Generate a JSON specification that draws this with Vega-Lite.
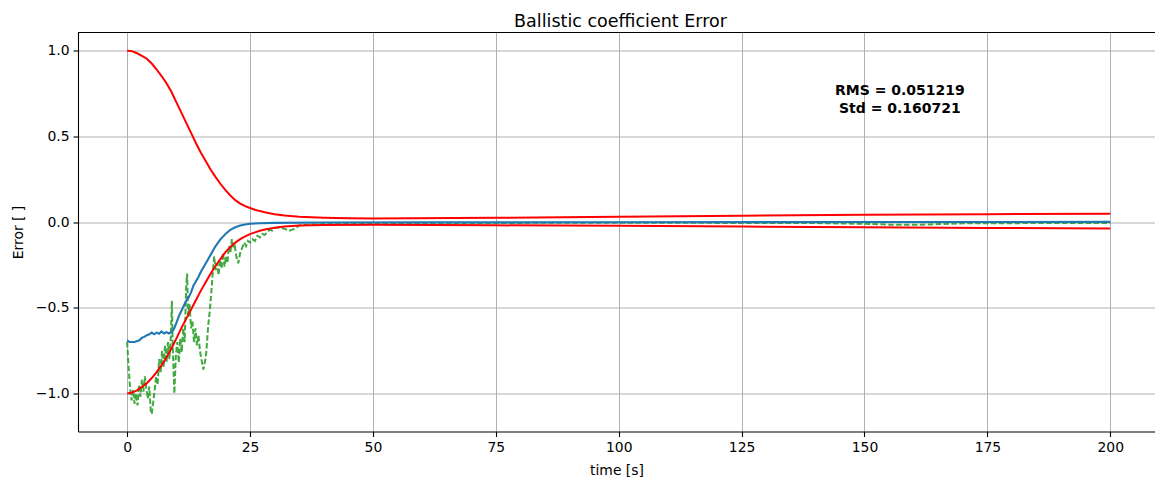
{
  "$schema": "https://vega.github.io/schema/vega-lite/v6.json",
  "width": 1077,
  "height": 399,
  "autosize": {"type": "none"},
  "padding": {"left": 78, "top": 32.5, "right": 0, "bottom": 50.5},
  "title": {"text": "Ballistic coefficient Error", "fontSize": 17.5, "fontWeight": "normal", "anchor": "middle", "frame": "group", "offset": -12.5, "baseline": "alphabetic", "color": "#000", "font": "DejaVu Sans", "dx": 4},
  "config": {
    "font": "DejaVu Sans",
    "view": {"stroke": null},
    "axis": {
      "grid": true, "gridColor": "#b0b0b0", "gridWidth": 1,
      "domainColor": "#000", "domainWidth": 1.1,
      "tickColor": "#000", "tickSize": 5, "tickWidth": 1.1,
      "labelPadding": 4, "labelFontSize": 13.9, "labelColor": "#000", "labelFont": "DejaVu Sans",
      "labelFlush": false, "labelOverlap": false,
      "titleFontSize": 13.9, "titleFontWeight": "normal", "titleColor": "#000", "titleFont": "DejaVu Sans"
    }
  },
  "datasets": {
    "upper": [
      {"t":0,"v":1.0},{"t":1,"v":0.997},{"t":2,"v":0.985},{"t":3,"v":0.97},{"t":4,"v":0.953},{"t":5,"v":0.925},{"t":6,"v":0.89},{"t":7,"v":0.852},{"t":8,"v":0.81},{"t":9,"v":0.76},{"t":10,"v":0.7},{"t":11,"v":0.64},{"t":12,"v":0.58},{"t":13,"v":0.52},{"t":14,"v":0.46},{"t":15,"v":0.405},{"t":16,"v":0.355},{"t":17,"v":0.305},{"t":18,"v":0.262},{"t":19,"v":0.222},{"t":20,"v":0.186},{"t":21,"v":0.155},{"t":22,"v":0.128},{"t":23,"v":0.108},{"t":24,"v":0.093},{"t":25,"v":0.082},{"t":26,"v":0.072},{"t":27,"v":0.064},{"t":28,"v":0.057},{"t":30,"v":0.046},{"t":32,"v":0.038},{"t":35,"v":0.031},{"t":40,"v":0.025},{"t":45,"v":0.022},{"t":50,"v":0.021},{"t":75,"v":0.025},{"t":100,"v":0.031},{"t":125,"v":0.037},{"t":150,"v":0.042},{"t":175,"v":0.046},{"t":200,"v":0.049}
    ],
    "lower": [
      {"t":0,"v":-1.0},{"t":1,"v":-0.995},{"t":2,"v":-0.982},{"t":3,"v":-0.962},{"t":4,"v":-0.94},{"t":5,"v":-0.91},{"t":6,"v":-0.875},{"t":7,"v":-0.835},{"t":8,"v":-0.79},{"t":9,"v":-0.738},{"t":10,"v":-0.68},{"t":11,"v":-0.62},{"t":12,"v":-0.565},{"t":13,"v":-0.51},{"t":14,"v":-0.455},{"t":15,"v":-0.4},{"t":16,"v":-0.35},{"t":17,"v":-0.3},{"t":18,"v":-0.255},{"t":19,"v":-0.215},{"t":20,"v":-0.175},{"t":21,"v":-0.145},{"t":22,"v":-0.12},{"t":23,"v":-0.1},{"t":24,"v":-0.083},{"t":25,"v":-0.07},{"t":26,"v":-0.06},{"t":27,"v":-0.051},{"t":28,"v":-0.044},{"t":30,"v":-0.033},{"t":32,"v":-0.026},{"t":35,"v":-0.02},{"t":40,"v":-0.017},{"t":50,"v":-0.016},{"t":75,"v":-0.019},{"t":100,"v":-0.022},{"t":125,"v":-0.026},{"t":150,"v":-0.03},{"t":175,"v":-0.034},{"t":200,"v":-0.037}
    ],
    "estimate": [
      {"t":0,"v":-0.69},{"t":0.5,"v":-0.7},{"t":1.5,"v":-0.7},{"t":2.5,"v":-0.69},{"t":3.0,"v":-0.675},{"t":3.5,"v":-0.67},{"t":4.0,"v":-0.66},{"t":4.5,"v":-0.655},{"t":5.0,"v":-0.645},{"t":5.5,"v":-0.655},{"t":6.0,"v":-0.645},{"t":6.5,"v":-0.652},{"t":7.0,"v":-0.638},{"t":7.5,"v":-0.65},{"t":8.0,"v":-0.642},{"t":8.5,"v":-0.65},{"t":9.0,"v":-0.643},{"t":9.5,"v":-0.625},{"t":10.0,"v":-0.59},{"t":10.5,"v":-0.55},{"t":11.0,"v":-0.52},{"t":11.5,"v":-0.49},{"t":12.0,"v":-0.46},{"t":12.5,"v":-0.44},{"t":13.0,"v":-0.41},{"t":13.5,"v":-0.37},{"t":14.0,"v":-0.345},{"t":14.5,"v":-0.32},{"t":15.0,"v":-0.29},{"t":15.5,"v":-0.265},{"t":16.0,"v":-0.24},{"t":16.5,"v":-0.215},{"t":17.0,"v":-0.19},{"t":17.5,"v":-0.165},{"t":18.0,"v":-0.14},{"t":18.5,"v":-0.12},{"t":19.0,"v":-0.1},{"t":19.5,"v":-0.085},{"t":20.0,"v":-0.07},{"t":21.0,"v":-0.045},{"t":22.0,"v":-0.03},{"t":23.0,"v":-0.02},{"t":24.0,"v":-0.014},{"t":25.0,"v":-0.01},{"t":27,"v":-0.007},{"t":30,"v":-0.005},{"t":40,"v":-0.003},{"t":60,"v":-0.002},{"t":100,"v":-0.001},{"t":150,"v":0.0},{"t":200,"v":0.001}
    ],
    "measured": [
      {"t":0,"v":-0.7},{"t":0.3,"v":-0.85},{"t":0.6,"v":-0.97},{"t":0.9,"v":-1.04},{"t":1.2,"v":-0.98},{"t":1.5,"v":-1.06},{"t":1.8,"v":-1.0},{"t":2.1,"v":-1.07},{"t":2.4,"v":-0.95},{"t":2.7,"v":-1.02},{"t":3.0,"v":-0.92},{"t":3.3,"v":-0.99},{"t":3.6,"v":-0.9},{"t":3.9,"v":-0.97},{"t":4.2,"v":-1.03},{"t":4.5,"v":-0.96},{"t":4.8,"v":-1.1},{"t":5.0,"v":-1.12},{"t":5.3,"v":-1.05},{"t":5.6,"v":-0.98},{"t":5.9,"v":-0.9},{"t":6.2,"v":-0.95},{"t":6.5,"v":-0.8},{"t":6.8,"v":-0.88},{"t":7.1,"v":-0.75},{"t":7.4,"v":-0.85},{"t":7.7,"v":-0.72},{"t":8.0,"v":-0.82},{"t":8.3,"v":-0.7},{"t":8.6,"v":-0.8},{"t":8.9,"v":-0.66},{"t":9.1,"v":-0.46},{"t":9.3,"v":-0.75},{"t":9.6,"v":-1.0},{"t":9.9,"v":-0.78},{"t":10.2,"v":-0.7},{"t":10.5,"v":-0.82},{"t":10.8,"v":-0.68},{"t":11.1,"v":-0.76},{"t":11.4,"v":-0.62},{"t":11.7,"v":-0.7},{"t":12.0,"v":-0.38},{"t":12.2,"v":-0.3},{"t":12.4,"v":-0.55},{"t":12.7,"v":-0.48},{"t":13.0,"v":-0.62},{"t":13.3,"v":-0.58},{"t":13.6,"v":-0.7},{"t":13.9,"v":-0.62},{"t":14.2,"v":-0.72},{"t":14.5,"v":-0.66},{"t":14.8,"v":-0.75},{"t":15.1,"v":-0.8},{"t":15.5,"v":-0.86},{"t":15.8,"v":-0.82},{"t":16.1,"v":-0.76},{"t":16.5,"v":-0.6},{"t":16.8,"v":-0.52},{"t":17.1,"v":-0.42},{"t":17.4,"v":-0.3},{"t":17.7,"v":-0.2},{"t":18.0,"v":-0.28},{"t":18.3,"v":-0.24},{"t":18.6,"v":-0.31},{"t":18.9,"v":-0.22},{"t":19.2,"v":-0.27},{"t":19.5,"v":-0.18},{"t":19.8,"v":-0.26},{"t":20.1,"v":-0.2},{"t":20.4,"v":-0.24},{"t":20.7,"v":-0.14},{"t":21.0,"v":-0.18},{"t":21.3,"v":-0.1},{"t":21.6,"v":-0.15},{"t":21.9,"v":-0.14},{"t":22.2,"v":-0.2},{"t":22.6,"v":-0.24},{"t":23.0,"v":-0.18},{"t":23.4,"v":-0.15},{"t":23.8,"v":-0.12},{"t":24.2,"v":-0.14},{"t":24.6,"v":-0.11},{"t":25.0,"v":-0.12},{"t":25.5,"v":-0.1},{"t":26.0,"v":-0.11},{"t":26.5,"v":-0.08},{"t":27.0,"v":-0.09},{"t":27.5,"v":-0.07},{"t":28.0,"v":-0.075},{"t":28.5,"v":-0.06},{"t":29.0,"v":-0.045},{"t":29.5,"v":-0.05},{"t":30.0,"v":-0.035},{"t":31.0,"v":-0.03},{"t":32.0,"v":-0.04},{"t":33.0,"v":-0.05},{"t":34.0,"v":-0.04},{"t":35.0,"v":-0.02},{"t":37,"v":-0.015},{"t":40,"v":-0.012},{"t":45,"v":-0.01},{"t":50,"v":-0.008},{"t":60,"v":-0.006},{"t":75,"v":-0.005},{"t":100,"v":-0.004},{"t":125,"v":-0.005},{"t":140,"v":-0.006},{"t":150,"v":-0.01},{"t":155,"v":-0.015},{"t":160,"v":-0.016},{"t":165,"v":-0.012},{"t":170,"v":-0.007},{"t":185,"v":-0.006},{"t":200,"v":-0.005}
    ],
    "note": [
      {"tx": 157.2, "ty": 0.762, "label": "RMS = 0.051219\nStd = 0.160721"}
    ],
    "frame": [
      {"top": 1.106}
    ]
  },
  "layer": [
    {
      "data": {"name": "measured"},
      "mark": {"type": "line", "color": "#2ca02c", "strokeWidth": 2, "strokeDash": [5.5, 2.4], "opacity": 0.9},
      "encoding": {
        "x": {"field": "t", "type": "quantitative", "scale": {"domain": [-10, 209.1], "nice": false, "zero": false},
              "axis": {"values": [0,25,50,75,100,125,150,175,200], "title": "time [s]", "titleY": 38.5, "titleBaseline": "middle"}},
        "y": {"field": "v", "type": "quantitative", "scale": {"domain": [-1.222, 1.106], "nice": false, "zero": false},
              "axis": {"values": [-1.0,-0.5,0.0,0.5,1.0], "format": ".1f", "title": "Error [ ]", "titleX": -60, "titleY": 199.5, "titleBaseline": "middle", "titleAngle": -90}}
      }
    },
    {
      "data": {"name": "estimate"},
      "mark": {"type": "line", "color": "#1f77b4", "strokeWidth": 2.1},
      "encoding": {"x": {"field": "t", "type": "quantitative"}, "y": {"field": "v", "type": "quantitative"}}
    },
    {
      "data": {"name": "upper"},
      "mark": {"type": "line", "color": "#ff0000", "strokeWidth": 2},
      "encoding": {"x": {"field": "t", "type": "quantitative"}, "y": {"field": "v", "type": "quantitative"}}
    },
    {
      "data": {"name": "lower"},
      "mark": {"type": "line", "color": "#ff0000", "strokeWidth": 2},
      "encoding": {"x": {"field": "t", "type": "quantitative"}, "y": {"field": "v", "type": "quantitative"}}
    },
    {
      "data": {"name": "frame"},
      "mark": {"type": "rule", "color": "#000", "strokeWidth": 1.1},
      "encoding": {"y": {"field": "top", "type": "quantitative"}}
    },
    {
      "data": {"name": "note"},
      "mark": {"type": "text", "font": "DejaVu Sans", "fontSize": 14, "fontWeight": "bold", "align": "center", "baseline": "middle", "lineBreak": "\n", "lineHeight": 17.5, "color": "#000"},
      "encoding": {"x": {"field": "tx", "type": "quantitative"}, "y": {"field": "ty", "type": "quantitative"}, "text": {"field": "label"}}
    }
  ]
}
